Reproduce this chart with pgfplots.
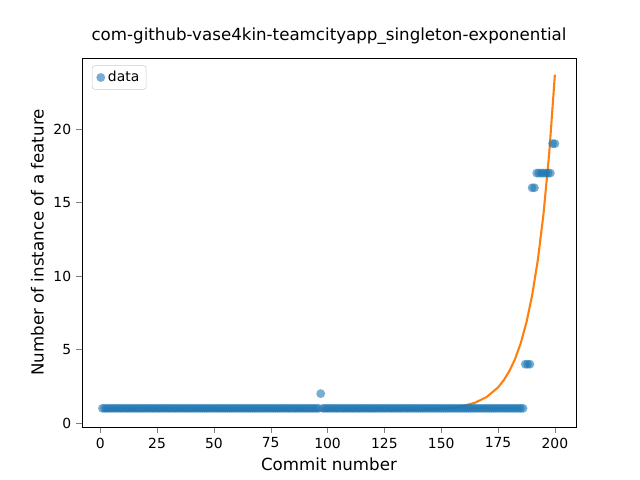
\documentclass[border=0pt]{standalone}
\usepackage{pgfplots}
\pgfplotsset{compat=1.18}
\usepackage{fontspec}
\setmainfont{DejaVu Sans}
\definecolor{mblue}{HTML}{1F77B4}
\definecolor{morange}{HTML}{FF7F0E}
\begin{document}
\begin{tikzpicture}
\useasboundingbox (-59.04pt,-38.16pt) rectangle (401.76pt,307.44pt);
\begin{axis}[at={(0,0)},anchor=south west,scale only axis,
 width=355.7pt,height=265.7pt,
 xmin=-8,xmax=209.3,ymin=-0.27,ymax=24.83,
 xtick={0,25,...,200},ytick={0,5,10,15,20},
 tick align=outside,tick pos=left,
 ticklabel style={font=\fontsize{10}{12}\selectfont},
 /pgf/number format/assume math mode=true,
 xlabel={Commit number},ylabel={Number of instance of a feature},
 label style={font=\fontsize{12}{14}\selectfont},
 title={com-github-vase4kin-teamcityapp\_singleton-exponential},
 title style={font=\fontsize{12}{14}\selectfont},
 legend style={at={(0.02,0.98)},anchor=north west,font=\fontsize{10}{12}\selectfont,draw=black!20,rounded corners=2pt},
 legend cell align=left]
\addplot[only marks,mark=*,mark size=3.2pt,draw opacity=0,fill=mblue,fill opacity=0.6,mark options={draw opacity=0,fill=mblue,fill opacity=0.6}] table[x=x,y=y] {
x y
1 1
2 1
3 1
4 1
5 1
6 1
7 1
8 1
9 1
10 1
11 1
12 1
13 1
14 1
15 1
16 1
17 1
18 1
19 1
20 1
21 1
22 1
23 1
24 1
25 1
26 1
27 1
28 1
29 1
30 1
31 1
32 1
33 1
34 1
35 1
36 1
37 1
38 1
39 1
40 1
41 1
42 1
43 1
44 1
45 1
46 1
47 1
48 1
49 1
50 1
51 1
52 1
53 1
54 1
55 1
56 1
57 1
58 1
59 1
60 1
61 1
62 1
63 1
64 1
65 1
66 1
67 1
68 1
69 1
70 1
71 1
72 1
73 1
74 1
75 1
76 1
77 1
78 1
79 1
80 1
81 1
82 1
83 1
84 1
85 1
86 1
87 1
88 1
89 1
90 1
91 1
92 1
93 1
94 1
95 1
96 1
97 2
98 1
99 1
100 1
101 1
102 1
103 1
104 1
105 1
106 1
107 1
108 1
109 1
110 1
111 1
112 1
113 1
114 1
115 1
116 1
117 1
118 1
119 1
120 1
121 1
122 1
123 1
124 1
125 1
126 1
127 1
128 1
129 1
130 1
131 1
132 1
133 1
134 1
135 1
136 1
137 1
138 1
139 1
140 1
141 1
142 1
143 1
144 1
145 1
146 1
147 1
148 1
149 1
150 1
151 1
152 1
153 1
154 1
155 1
156 1
157 1
158 1
159 1
160 1
161 1
162 1
163 1
164 1
165 1
166 1
167 1
168 1
169 1
170 1
171 1
172 1
173 1
174 1
175 1
176 1
177 1
178 1
179 1
180 1
181 1
182 1
183 1
184 1
185 1
186 1
187 4
188 4
189 4
190 16
191 16
192 17
193 17
194 17
195 17
196 17
197 17
198 17
199 19
200 19
};
\addlegendentry{data}
\addplot[morange,line width=1.5pt,forget plot] coordinates {
(1,0.85) (60,0.85) (100,0.851) (120,0.854) (140,0.89) (150,0.96) (155,1.04) (160,1.17) (165,1.39) (170,1.77) (175,2.42) (177.5,2.91) (180,3.54) (182.5,4.36) (185,5.44) (187.5,6.85) (190,8.69) (192.5,11.09) (195,14.23) (197.5,18.33) (200,23.70)
};
\end{axis}
\end{tikzpicture}
\end{document}
